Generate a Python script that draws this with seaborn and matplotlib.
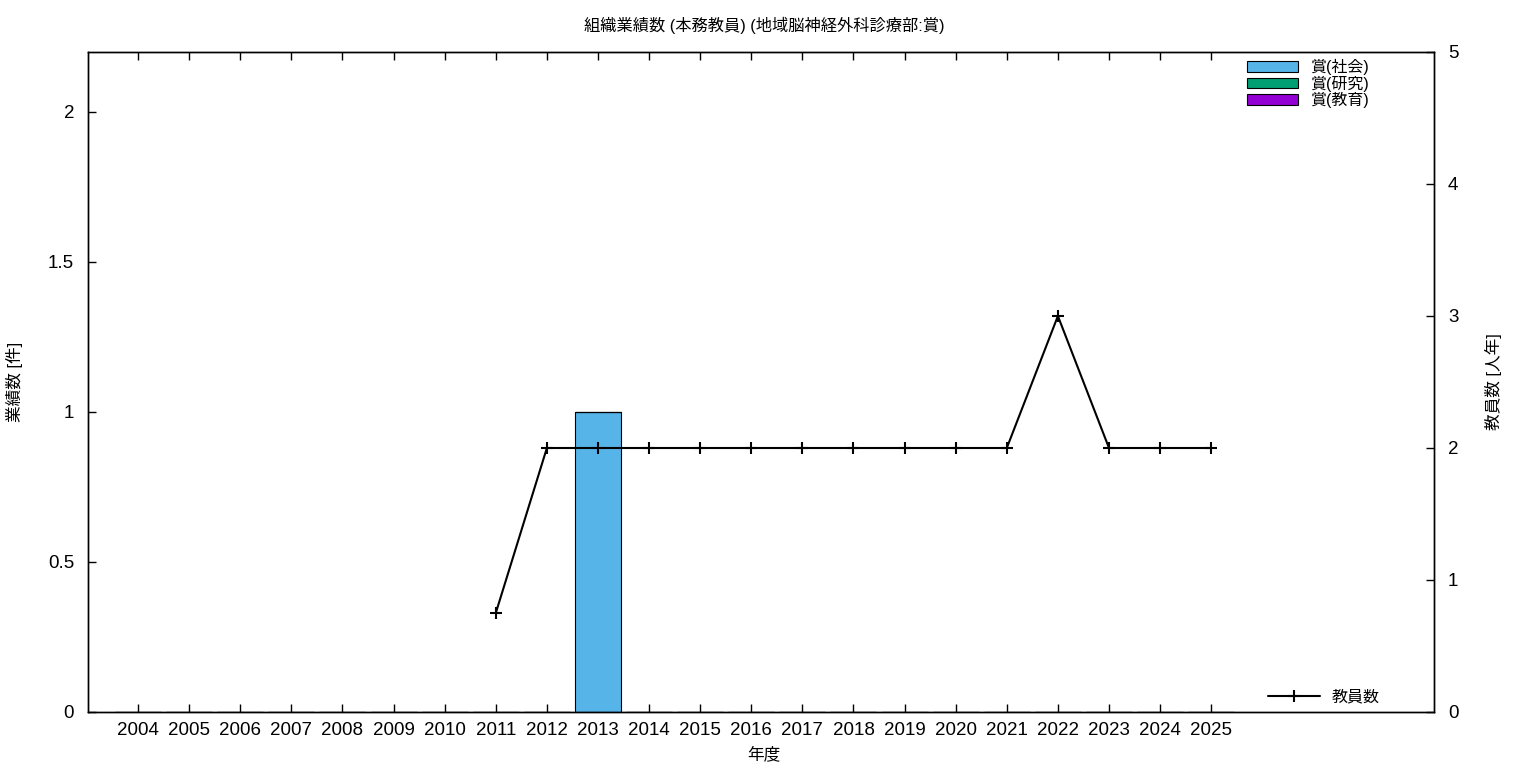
import matplotlib
matplotlib.use("Agg")
import matplotlib.pyplot as plt
import seaborn as sns
import pandas as pd
from matplotlib.patches import Patch
from matplotlib.lines import Line2D

years = [str(y) for y in range(2004, 2026)]
shakai = [0]*9 + [1] + [0]*12
kenkyu = [0]*22
kyouiku = [0]*22
teacher_years = [str(y) for y in range(2011, 2026)]
teachers = [0.75, 2, 2, 2, 2, 2, 2, 2, 2, 2, 2, 3, 2, 2, 2]

series_names = ["賞(社会)", "賞(研究)", "賞(教育)"]
series_colors = ["#56b4e9", "#009e73", "#9400d3"]
line_name = "教員数"

sns.set_theme(style="white")
plt.rcParams['font.family'] = ['Liberation Sans', 'Noto Sans CJK JP', 'DejaVu Sans']
plt.rcParams['text.color'] = 'black'
plt.rcParams['axes.labelcolor'] = 'black'
plt.rcParams['xtick.color'] = 'black'
plt.rcParams['ytick.color'] = 'black'

W, H = 1536, 768
L, R, T, B = 88, 1434, 52, 712
fig = plt.figure(figsize=(W/100, H/100), dpi=100)
ax = fig.add_axes([L/W, 1-B/H, (R-L)/W, (B-T)/H])

def axx(px):
    return (px - L) / (R - L)

def axy(py):
    return (B - py) / (B - T)

df = pd.DataFrame({"year": years, "shakai": shakai, "kenkyu": kenkyu, "kyouiku": kyouiku})
bottom = [0]*len(years)
for col, name, colr in zip(["shakai", "kenkyu", "kyouiku"], series_names, series_colors):
    vals = df[col].tolist()
    sns.barplot(x=df["year"], y=vals, color=colr, edgecolor="black", linewidth=0.8,
                width=0.9, bottom=bottom, ax=ax, saturation=1, order=years)
    bottom = [b + v for b, v in zip(bottom, vals)]

ax.set_xlim(-0.98, 25.36)
ax.set_ylim(0, 2.2)
ax.set_yticks([0, 0.5, 1, 1.5, 2])
ax.set_yticklabels(["0", "0.5", "1", "1.5", "2"])
ax.set_xticks(range(len(years)))
ax.set_xticklabels(years)
ax.tick_params(axis='x', direction='in', length=6, width=1, top=True, bottom=True,
               labelsize=13.5, pad=7, colors='black')
ax.tick_params(axis='y', direction='in', length=6, width=1, left=True, right=False,
               labelsize=13.5, pad=10, colors='black')
for s in ax.spines.values():
    s.set_color('black'); s.set_linewidth(1)
ax.set_xlabel("年度", fontsize=12)
ax.set_ylabel("業績数 [件]", fontsize=12)
ax.xaxis.set_label_coords(axx(764), axy(746))
ax.yaxis.set_label_coords(axx(23), axy(382))

ax2 = ax.twinx()
xpos = [years.index(y) for y in teacher_years]
sns.lineplot(x=xpos, y=teachers, ax=ax2, color="black", linewidth=1.5, marker="+",
             markersize=8, markeredgewidth=1.5, markeredgecolor="black")
ax2.set_ylim(0, 5)
ax2.set_yticks([0, 1, 2, 3, 4, 5])
ax2.tick_params(axis='y', direction='in', length=6, width=1, right=True,
                labelsize=13.5, pad=10, colors='black')
ax2.set_ylabel("教員数 [人年]", fontsize=12, rotation=90)
ax2.yaxis.set_label_coords(axx(1485), axy(382))
ax2.set_xlim(-0.98, 25.36)
for s in ax2.spines.values():
    s.set_color('black'); s.set_linewidth(1)

handles = [Patch(facecolor=c, edgecolor="black", linewidth=0.8) for c in series_colors]
leg1 = ax2.legend(handles, series_names, loc="upper left", bbox_to_anchor=(axx(1247), axy(59)),
                  frameon=False, fontsize=11.5, handlelength=3.2, handleheight=0.6,
                  labelspacing=0.03, handletextpad=0.75, borderaxespad=0, borderpad=0)
ax2.add_artist(leg1)
lh = [Line2D([0], [0], color="black", linewidth=1.5, marker="+", markersize=8, markeredgewidth=1.5)]
ax2.legend(lh, [line_name], loc="center left", bbox_to_anchor=(axx(1268), axy(697)),
           frameon=False, fontsize=11.5, handlelength=3.25, handletextpad=0.75,
           borderaxespad=0, borderpad=0)

fig.text(764/W, 1-25/H, "組織業績数 (本務教員) (地域脳神経外科診療部:賞)", fontsize=11.7,
         ha='center', va='center')
fig.savefig("out.png", dpi=100)
